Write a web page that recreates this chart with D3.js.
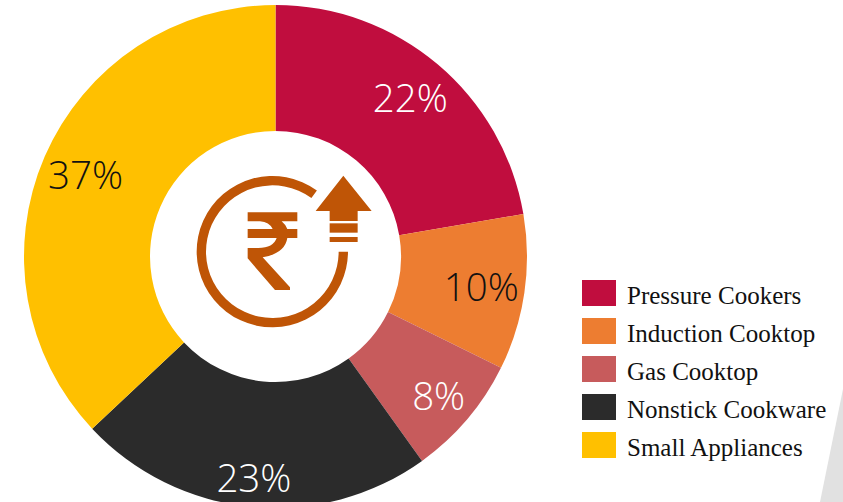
<!DOCTYPE html>
<html><head><meta charset="utf-8">
<script src="https://cdn.jsdelivr.net/npm/d3@7"></script>
<style>html,body{margin:0;padding:0;background:#fff;overflow:hidden}svg{display:block}</style>
</head><body><svg id="c" width="843" height="502"></svg>
<script>
const categories=["Pressure Cookers","Induction Cooktop","Gas Cooktop","Nonstick Cookware","Small Appliances"];
const shares=[22.3,10,7.8,22.9,37];
const colors=["#C00D3E","#ED7D31","#C75B5C","#2B2B2B","#FFC000"];
const labelInk=["#fff","#111","#fff","#fff","#111"];
const labelRadius=[209,208,214,222,207];

const W=843,H=502,cx=275.5,cy=256.5,R=251.5,r=125.5;
const svg=d3.select("#c");
svg.append("path").attr("d","M843,389 L843,502 L820,502 Z").attr("fill","#e1e1e1");

const pie=d3.pie().sort(null).value(d=>d)(shares);
const arc=d3.arc().innerRadius(r).outerRadius(R);
const g=svg.append("g").attr("transform",`translate(${cx},${cy})`);
g.selectAll("path.s").data(pie).join("path").attr("class","s").attr("d",arc).attr("fill",(d,i)=>colors[i]);
g.selectAll("text").data(pie).join("text")
 .attr("transform",(d,i)=>{const p=d3.arc().innerRadius(labelRadius[i]).outerRadius(labelRadius[i]).centroid(d);return `translate(${p})`;})
 .attr("text-anchor","middle").attr("dominant-baseline","central")
 .attr("font-family","Open Sans, sans-serif").attr("font-weight",300).attr("font-size",38.5)
 .attr("fill",(d,i)=>labelInk[i]).text(d=>Math.round(d.value)+"%");

// centre icon, traced in 3x-scaled coordinates
const ink="#BF5506";
const icon=svg.append("g").attr("transform","translate(180,160) scale(0.3333)").attr("fill",ink);
icon.append("path").attr("transform","translate(277,275)")
 .attr("d",d3.arc().innerRadius(199).outerRadius(227).startAngle(Math.PI/2).endAngle(Math.PI*2+0.63)());
icon.append("path").attr("d","M490,47 L575,153 H533 V183 H449 V153 H407 Z");
icon.append("rect").attr("x",449).attr("y",190).attr("width",84).attr("height",28);
icon.append("rect").attr("x",449).attr("y",231).attr("width",84).attr("height",15);
icon.append("path").attr("d","M203,157 H352 V184 H305 Q318,195 322,207 H352 V234 H322 Q315,280 248,292 L330,382 V390 H285 L203,295 V264 H235 Q280,264 290,234 H203 V207 H278 Q268,186 240,184 H203 Z");

// legend
const rowY=d3.scalePoint().domain(categories).range([295,447]);
const lg=svg.append("g").selectAll("g").data(categories).join("g").attr("transform",d=>`translate(582,${rowY(d)})`);
lg.append("rect").attr("x",0).attr("y",-15).attr("width",34).attr("height",26).attr("fill",(d,i)=>colors[i]);
lg.append("text").attr("x",45).attr("y",0).attr("dominant-baseline","central")
 .attr("font-family","Liberation Serif, serif").attr("font-size",25).attr("fill","#111").text(d=>d);
</script></body></html>
